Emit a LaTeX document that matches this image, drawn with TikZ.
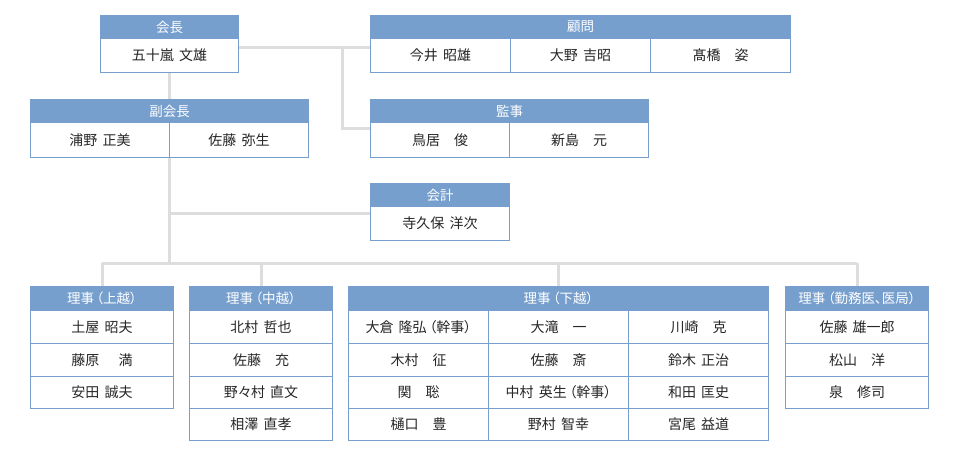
\documentclass[tikz,border=0pt]{standalone}
\usepackage{fontspec}
\setmainfont[RawFeature=+palt, WordSpace=1.6]{Noto Sans CJK JP}
\usetikzlibrary{backgrounds}
\definecolor{hblue}{HTML}{769FCE}
\definecolor{lgray}{HTML}{DDDDDD}
\definecolor{ntext}{HTML}{262626}
\newcommand{\pgap}{\hspace{0.18em}}
\tikzset{
  hdr/.style={fill=hblue, draw=hblue, line width=1pt, text=white, anchor=north west, inner sep=0pt,
    font=\fontsize{13.5}{14}\selectfont},
  cellbox/.style={fill=white, draw=hblue, line width=1pt, text=ntext, anchor=north west, inner sep=0pt,
    font=\fontsize{14}{15}\selectfont},
  conn/.style={draw=lgray, line width=3pt}
}
\begin{document}
\begin{tikzpicture}[x=1pt,y=-1pt]
\useasboundingbox (0,0) rectangle (960,455);
% 会長
\node[hdr, minimum width=138pt, minimum height=23pt] (kaicho) at (100,15) {会長};
\node[cellbox, minimum width=138pt, minimum height=34pt] (kaicho-1) at (100,38) {五十嵐 文雄};
% 顧問
\node[hdr, minimum width=420pt, minimum height=23pt] (komon) at (370,15) {顧問};
\node[cellbox, minimum width=140pt, minimum height=34pt] (komon-1) at (370,38) {今井 昭雄};
\node[cellbox, minimum width=140pt, minimum height=34pt] (komon-2) at (510,38) {大野 吉昭};
\node[cellbox, minimum width=140pt, minimum height=34pt] (komon-3) at (650,38) {髙橋　姿};
% 副会長
\node[hdr, minimum width=278pt, minimum height=23pt] (fuku) at (30,99) {副会長};
\node[cellbox, minimum width=139pt, minimum height=35pt] (fuku-1) at (30,122) {浦野 正美};
\node[cellbox, minimum width=139pt, minimum height=35pt] (fuku-2) at (169,122) {佐藤 弥生};
% 監事
\node[hdr, minimum width=278pt, minimum height=23pt] (kanji) at (370,99) {監事};
\node[cellbox, minimum width=139pt, minimum height=35pt] (kanji-1) at (370,122) {鳥居　俊};
\node[cellbox, minimum width=139pt, minimum height=35pt] (kanji-2) at (509,122) {新島　元};
% 会計
\node[hdr, minimum width=139pt, minimum height=23pt] (kaikei) at (370,183) {会計};
\node[cellbox, minimum width=139pt, minimum height=34pt] (kaikei-1) at (370,206) {寺久保 洋次};
% 理事（上越）
\node[hdr, minimum width=143pt, minimum height=24pt] (joetsu) at (30,286) {理事\pgap（上越）\pgap};
\node[cellbox, minimum width=143pt, minimum height=33pt] (joetsu-1) at (30,310) {土屋 昭夫};
\node[cellbox, minimum width=143pt, minimum height=33pt] (joetsu-2) at (30,343) {藤原　 満};
\node[cellbox, minimum width=143pt, minimum height=32pt] (joetsu-3) at (30,376) {安田 誠夫};
% 理事（中越）
\node[hdr, minimum width=143pt, minimum height=24pt] (chuetsu) at (189,286) {理事\pgap（中越）\pgap};
\node[cellbox, minimum width=143pt, minimum height=33pt] (chuetsu-1) at (189,310) {北村 哲也};
\node[cellbox, minimum width=143pt, minimum height=33pt] (chuetsu-2) at (189,343) {佐藤　充};
\node[cellbox, minimum width=143pt, minimum height=32pt] (chuetsu-3) at (189,376) {野々村 直文};
\node[cellbox, minimum width=143pt, minimum height=32pt] (chuetsu-4) at (189,408) {相澤 直孝};
% 理事（下越）
\node[hdr, minimum width=420pt, minimum height=24pt] (kaetsu) at (348,286) {理事\pgap（下越）\pgap};
\node[cellbox, minimum width=140pt, minimum height=33pt] (ka-11) at (348,310) {大倉 隆弘\pgap（幹事）\pgap};
\node[cellbox, minimum width=140pt, minimum height=33pt] (ka-12) at (488,310) {大滝　一};
\node[cellbox, minimum width=140pt, minimum height=33pt] (ka-13) at (628,310) {川崎　克};
\node[cellbox, minimum width=140pt, minimum height=33pt] (ka-21) at (348,343) {木村　征};
\node[cellbox, minimum width=140pt, minimum height=33pt] (ka-22) at (488,343) {佐藤　斎};
\node[cellbox, minimum width=140pt, minimum height=33pt] (ka-23) at (628,343) {鈴木 正治};
\node[cellbox, minimum width=140pt, minimum height=32pt] (ka-31) at (348,376) {関　聡};
\node[cellbox, minimum width=140pt, minimum height=32pt] (ka-32) at (488,376) {中村 英生\pgap（幹事）\pgap};
\node[cellbox, minimum width=140pt, minimum height=32pt] (ka-33) at (628,376) {和田 匡史};
\node[cellbox, minimum width=140pt, minimum height=32pt] (ka-41) at (348,408) {樋口　豊};
\node[cellbox, minimum width=140pt, minimum height=32pt] (ka-42) at (488,408) {野村 智幸};
\node[cellbox, minimum width=140pt, minimum height=32pt] (ka-43) at (628,408) {宮尾 益道};
% 理事（勤務医、医局）
\node[hdr, minimum width=143pt, minimum height=24pt] (kinmu) at (785,286) {理事\pgap（勤務医、医局）\pgap};
\node[cellbox, minimum width=143pt, minimum height=33pt] (kinmu-1) at (785,310) {佐藤 雄一郎};
\node[cellbox, minimum width=143pt, minimum height=33pt] (kinmu-2) at (785,343) {松山　洋};
\node[cellbox, minimum width=143pt, minimum height=32pt] (kinmu-3) at (785,376) {泉　修司};
% connectors
\coordinate (j1) at (342,47);
\coordinate (j2) at (342,128);
\coordinate (j3) at (169,213);
\coordinate (j4) at (169,263);
\begin{scope}[on background layer]
\draw[conn] (kaicho-1.east |- j1) -- (komon-1.west |- j1);
\draw[conn] (j1) -- (j2) -- (kanji-1.west |- j2);
\draw[conn] (kaicho-1.south) -- (fuku.north);
\draw[conn] (j4 |- fuku-1.south) -- (j4);
\draw[conn] (j3) -- (kaikei-1.west |- j3);
\draw[conn] (joetsu.north |- j4) -- (kinmu.north |- j4);
\draw[conn] (joetsu.north |- j4) -- (joetsu.north);
\draw[conn] (chuetsu.north |- j4) -- (chuetsu.north);
\draw[conn] (kaetsu.north |- j4) -- (kaetsu.north);
\draw[conn] (kinmu.north |- j4) -- (kinmu.north);
\end{scope}
\end{tikzpicture}
\end{document}
